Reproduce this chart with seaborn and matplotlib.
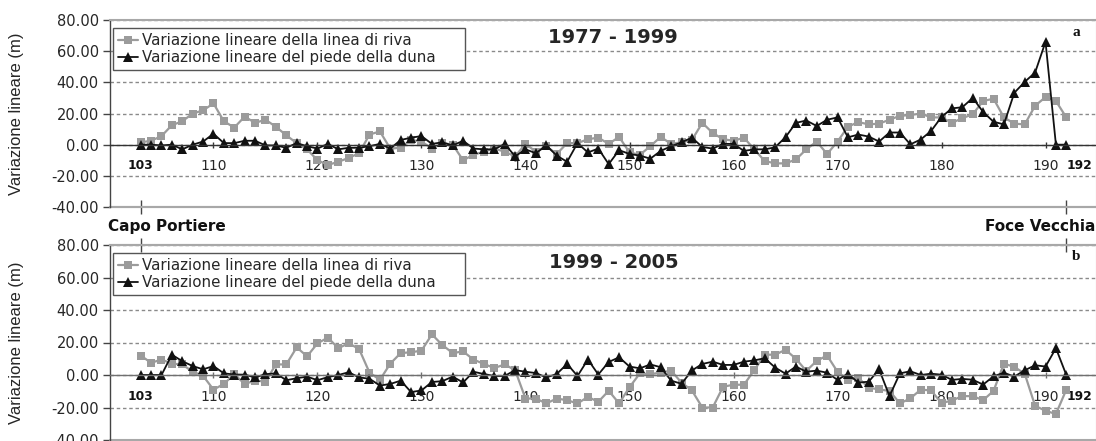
import matplotlib
matplotlib.use("Agg")
import matplotlib.pyplot as plt
from matplotlib.ticker import FormatStrFormatter
import numpy as np
import pandas as pd
import seaborn as sns

# ---------------- data ----------------
sections = list(range(103, 193))  # transect numbers 103..192

riva_77_99 = [1.5, 2.5, 5.5, 12.5, 15, 20, 22, 26.5, 15, 11,
              18, 14, 16, 11.5, 6, 1, -3, -10, -13, -11,
              -8.5, -5.5, 6.5, 8.5, -2.5, -2, 3, 2, -2.5, 1,
              0, -10, -6.5, -4.5, -2.5, -4.5, -7.5, 0.5, -4.5, -1,
              -6, 1, 1, 3.5, 4.5, 0.5, 5, -5, -6.5, -1,
              5, 0.5, 1.5, 3, 14, 7.5, 3.5, 2.5, 4.5, -3,
              -10.5, -12, -12, -9.5, -3, 2, -6, 2, 11.5, 14.5,
              13, 13.5, 16, 18.5, 19, 20, 17.5, 17.5, 14, 17,
              19.5, 28, 29.5, 17.5, 13.5, 13, 25, 30.5, 28, 17.5]

duna_77_99 = [0, 0, -0.5, 0, -3, 0, 2, 7, 1, 1,
              2.5, 2.5, -0.5, -0.5, -2, 1, -1, -2.5, 0.5, -3,
              -2, -2, -1, 0.5, -2.5, 3, 4.5, 5.5, 0.5, 1.5,
              -0.5, 2.5, -2.5, -3, -3, 0.5, -7.5, -3, -5.5, -0.5,
              -7, -11, 1, -5, -2.5, -12.5, -3.5, -6, -7, -9,
              -4, -1, 1.5, 4.5, -1.5, -2.5, 0.5, 0.5, -4, -3,
              -3, -1.7, 4.8, 14, 15.5, 12, 16, 17.5, 4.7, 6.5,
              5.2, 2, 7.8, 7.8, 0.2, 3.3, 8.8, 17.8, 23.3, 24,
              30, 21, 14.7, 13, 33.3, 40.3, 46.3, 66, 0, 0]

riva_99_05 = [12, 7.5, 9.5, 7, 6.5, 2, -0.5, -9, -5.5, 0.5,
              -5.5, -3.5, -4, 6.5, 6.5, 17, 11.5, 19.5, 23, 16.5,
              19.5, 16, 1.5, -3, 7, 13.5, 14, 15, 25, 18.5,
              13.5, 14.5, 9.5, 6.8, 4.3, 6.5, 3, -14.5, -14.5, -17.5,
              -14.5, -15.5, -17.5, -13.5, -16.5, -9.7, -17.5, -7.5, 1, 0.5,
              1.5, 2.7, -4.7, -9.5, -20, -20, -7.2, -6, -6, 3,
              12.5, 12.5, 15.5, 10, 2.5, 8.7, 12, 2, -3, -1.8,
              -7.8, -8.9, -9.8, -17.5, -14.4, -9, -9.5, -17.3, -15.7, -13,
              -13, -15.5, -9.8, 7, 5, 0.8, -19, -22, -24, -9]

duna_99_05 = [0, 0, 0, 12.5, 8.5, 5.5, 3.5, 5.5, 1, 0.3,
              0.2, -1.5, 0.5, 1, -3.2, -2, -1, -3.2, -1.3, 0,
              1.7, -1.5, -2.3, -6.5, -5.5, -3.5, -10.5, -9.5, -4.3, -3.8,
              -1, -4.6, 2, 0.6, -0.6, -0.6, 3, 2, 1.2, -1.5,
              0.6, 6.8, -0.6, 9.5, 0.3, 8, 10.9, 5.2, 4.1, 6.5,
              4.8, -3.5, -5.4, 2.8, 6.8, 8.2, 6.2, 6.2, 8.2, 9,
              10.3, 4.6, 0.8, 5.2, 2, 2.7, 1.4, -3, 0.8, -4.7,
              -4.1, 3.5, -13, 1, 2.3, 0, 0.8, 0.2, -3, -2.4,
              -2.9, -5.9, -0.8, 1.4, -1, 2.9, 6, 5.2, 16.5, 0]

label_riva = "Variazione lineare della linea di riva"
label_duna = "Variazione lineare del piede della duna"
periods = ["1977 - 1999", "1999 - 2005"]
panel_letters = ["a", "b"]
end_names = ["Capo Portiere", "Foce Vecchia"]
y_ticks = [-40, -20, 0, 20, 40, 60, 80]
x_ticks = [sections[0]] + list(range(110, 191, 10)) + [sections[-1]]

# ---------------- style ----------------
sns.set_style("white")
plt.rcParams["font.family"] = ["DejaVu Sans"]

GRAY = "#9b9b9b"
BLACK = "#111111"
FRAME = "#a8a8a8"
TXT = "#262626"

fig = plt.figure(figsize=(10.96, 4.41), dpi=100)
W, H = 1096, 441
ax_a = fig.add_axes([110 / W, 1 - 207 / H, 987 / W, 187 / H])
ax_b = fig.add_axes([110 / W, 1 - 440 / H, 987 / W, 195 / H])

panels = [
    (ax_a, riva_77_99, duna_77_99, periods[0], panel_letters[0], "bottom", 207, 20, "#333333"),
    (ax_b, riva_99_05, duna_99_05, periods[1], panel_letters[1], "top", 440, 245, "#707070"),
]

for ax, riva, duna, period, letter, endside, pbot, ptop, zcol in panels:
    ph = pbot - ptop
    df = pd.DataFrame({"sezione": sections, "riva": riva, "duna": duna})
    sns.lineplot(data=df, x="sezione", y="riva", ax=ax, color=GRAY, marker="s",
                 markersize=5.5, markeredgewidth=0, linewidth=1.6, label=label_riva)
    sns.lineplot(data=df, x="sezione", y="duna", ax=ax, color=BLACK, marker="^",
                 markersize=6.5, markeredgewidth=0, linewidth=1.3, label=label_duna)

    ax.set_xlim(100.05, 194.95)
    ax.set_ylim(-40, 80)
    ax.set_yticks(y_ticks)
    ax.yaxis.set_major_formatter(FormatStrFormatter("%.2f"))
    ax.yaxis.grid(True, ls=(0, (2.5, 2)), color="#8a8a8a", lw=1)
    ax.set_axisbelow(True)

    # frame
    ax.spines["left"].set_color("#444444")
    ax.spines["left"].set_linewidth(1.0)
    for s in ("top", "right"):
        ax.spines[s].set_color(FRAME)
        ax.spines[s].set_linewidth(1.5)
    ax.spines["bottom"].set_position(("data", 0))
    ax.spines["bottom"].set_color(zcol)
    ax.spines["bottom"].set_linewidth(1.0)
    ax.axhline(-40, color=FRAME, lw=1.5, clip_on=False, zorder=1)

    ax.tick_params(axis="y", direction="out", length=5, width=1, color="#444444",
                   labelsize=10.5, labelcolor=TXT, pad=3, left=True)
    ax.set_xticks(x_ticks)
    ax.set_xticklabels([str(t) for t in x_ticks])
    ax.tick_params(axis="x", direction="inout", length=5, width=1, color=zcol,
                   labelsize=10, labelcolor=TXT, pad=8, bottom=True)
    tl = ax.get_xticklabels()
    for lab in (tl[0], tl[-1]):
        lab.set_fontweight("bold")
        lab.set_fontsize(8.8)
        lab.set_color("#111111")
    tl[-1].set_horizontalalignment("left")

    ax.set_xlabel("")
    ax.set_ylabel("Variazione lineare (m)", family=["Liberation Sans"], fontsize=12,
                  color=TXT)
    ax.yaxis.set_label_coords(-0.087, 0.5)

    # end markers (Capo Portiere / Foce Vecchia)
    sec = ax.secondary_xaxis(endside)
    sec.set_xticks([sections[0], sections[-1]])
    sec.tick_params(direction="inout", length=10, width=1, color="#444444",
                    labelbottom=False, labeltop=False)
    for s in sec.spines.values():
        s.set_color(FRAME)
        s.set_linewidth(1.5)

    # legend
    ax.legend(loc="upper left",
              bbox_to_anchor=(3 / 987, (pbot - (ptop + 52)) / ph, 352 / 987, 44 / ph),
              mode="expand", frameon=True, fancybox=False, framealpha=1,
              edgecolor="#555555", fontsize=10.8, handlelength=1.3,
              handletextpad=0.25, borderpad=0.35, labelspacing=0.12,
              borderaxespad=0)
    ax.get_legend().get_frame().set_linewidth(1.0)
    for t in ax.get_legend().get_texts():
        t.set_color(TXT)

    # period title and panel letter
    ax.text(0.51, (pbot - (ptop + 17)) / ph, period, transform=ax.transAxes,
            ha="center", va="center", fontsize=14, fontweight="bold", color=TXT)
    ax.text(0.979, (pbot - (ptop + 12)) / ph, letter, transform=ax.transAxes,
            ha="center", va="center", fontsize=11, fontweight="bold",
            family=["Liberation Serif"], color="#111111")

# location names between panels
fig.text(108 / W, 1 - 226 / H, end_names[0], ha="left", va="center",
         fontsize=11, fontweight="bold", color="#111111")
fig.text(1095 / W, 1 - 226 / H, end_names[1], ha="right", va="center",
         fontsize=11, fontweight="bold", color="#111111")

fig.savefig("out.png", dpi=100)
